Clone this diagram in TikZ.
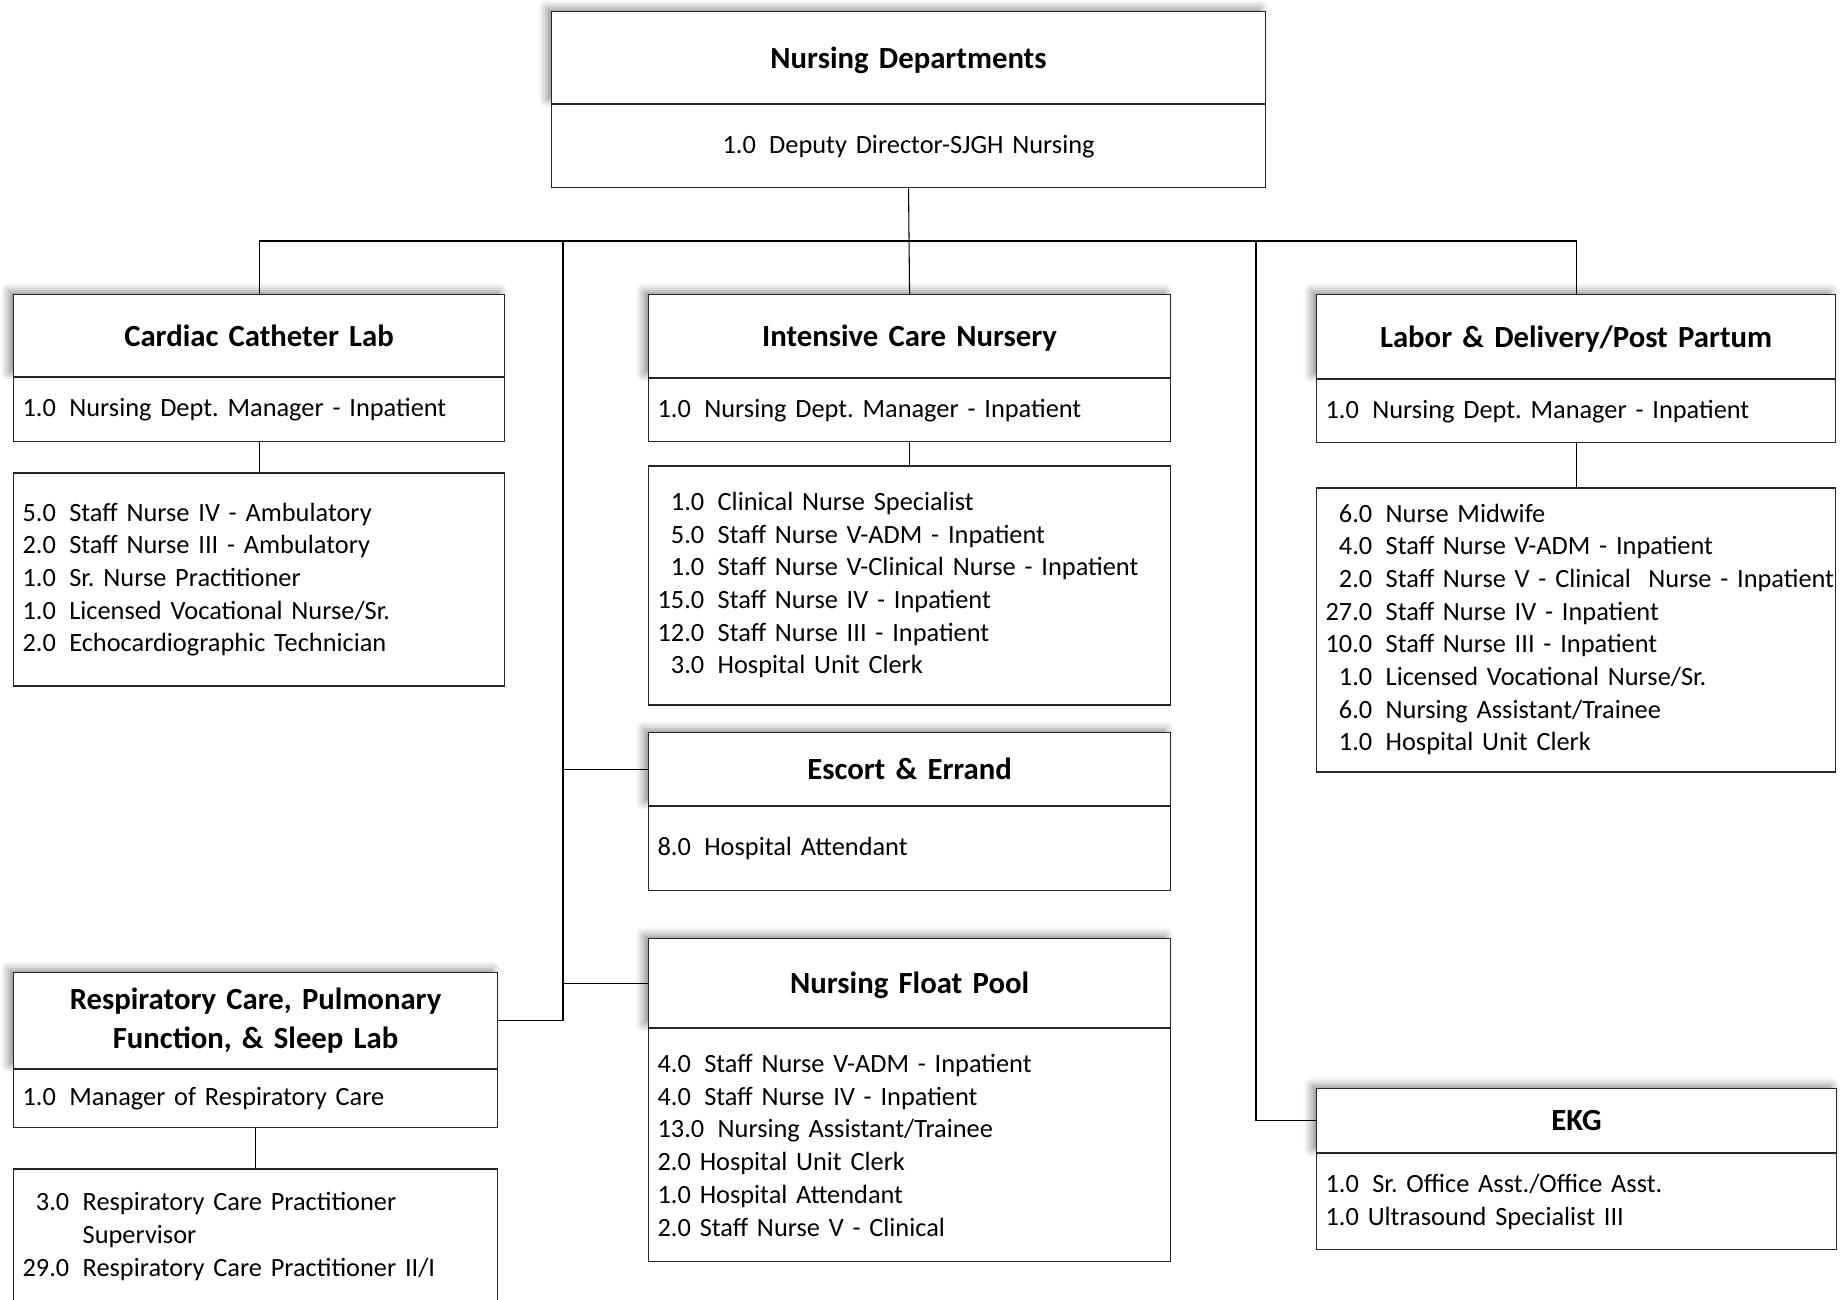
\documentclass[tikz,border=0pt]{standalone}
\usepackage{fontspec}
\setmainfont{Carlito}
\usepackage{tikz}
\usetikzlibrary{
  positioning,
  shadows.blur
}
\definecolor{ink}{HTML}{000000}
\definecolor{rule}{HTML}{262626}
\frenchspacing
\newcommand\headsize{\fontsize{17.5}{22}\selectfont\bfseries\spaceskip=0.2em\relax}
\newcommand\staffsize{\fontsize{15}{18.6}\selectfont\spaceskip=0.18em\relax}
\newcommand\numgap{\hspace{7.6pt}}
\tikzset{
  unithead/.style={
    draw=rule,
    fill=white,
    line width=0.7pt,
    font=\headsize,
    align=center,
    text depth=0pt,
    inner xsep=0.18cm,
    inner ysep=0pt,
    blur shadow={shadow xshift=-0.1cm, shadow yshift=0.07cm,
      shadow blur radius=0.16cm, shadow opacity=45}
  },
  unitpart/.style={
    draw=rule,
    fill=white,
    line width=0.7pt,
    font=\staffsize,
    align=left,
    inner xsep=0.18cm,
    inner ysep=0pt
  },
  link/.style={
    draw=ink,
    line width=0.6pt
  }
}

\begin{document}
\begin{tikzpicture}[x=0.02cm,y=-0.02cm]
  \useasboundingbox (0,0) rectangle (1843,1299);
  \clip (0,0) rectangle (1843,1299);

  % Head of the nursing departments.
  \node[unithead, text width=13.92cm, minimum height=1.84cm, anchor=north west]
    (topT) at (551,11) {Nursing Departments};
  \node[unitpart, align=center, text width=13.92cm, minimum height=1.66cm,
    below=0pt of topT] (topS) {1.0\numgap Deputy Director-SJGH Nursing};

  % Cardiac Catheter Lab.
  \node[unithead, text width=9.46cm, minimum height=1.64cm, anchor=north west]
    (cardT) at (13,294) {Cardiac Catheter Lab};
  \node[unitpart, text width=9.46cm, minimum height=1.28cm, below=0pt of cardT]
    (cardS) {1.0\numgap Nursing Dept. Manager - Inpatient};
  \node[unitpart, text width=9.46cm, minimum height=4.26cm, below=0.6cm of cardS]
    (cardD) {5.0\numgap Staff Nurse IV - Ambulatory\\
             2.0\numgap Staff Nurse III - Ambulatory\\
             1.0\numgap Sr. Nurse Practitioner\\
             1.0\numgap Licensed Vocational Nurse/Sr.\\
             2.0\numgap Echocardiographic Technician};

  % Intensive Care Nursery.
  \node[unithead, text width=10.08cm, minimum height=1.66cm, anchor=north west]
    (icnT) at (648,294) {Intensive Care Nursery};
  \node[unitpart, text width=10.08cm, minimum height=1.26cm, below=0pt of icnT]
    (icnS) {1.0\numgap Nursing Dept. Manager - Inpatient};
  \node[unitpart, text width=10.08cm, minimum height=4.78cm, below=0.46cm of icnS]
    (icnD) {\begin{tabular}{@{}r@{\numgap}l@{}}
      1.0 & Clinical Nurse Specialist\\
      5.0 & Staff Nurse V-ADM - Inpatient\\
      1.0 & Staff Nurse V-Clinical Nurse - Inpatient\\
      15.0 & Staff Nurse IV - Inpatient\\
      12.0 & Staff Nurse III - Inpatient\\
      3.0 & Hospital Unit Clerk
    \end{tabular}};

  % Labor & Delivery.
  \node[unithead, text width=10.02cm, minimum height=1.68cm, anchor=north west]
    (ldT) at (1316,294) {Labor \& Delivery/Post Partum};
  \node[unitpart, text width=10.02cm, minimum height=1.26cm, below=0pt of ldT]
    (ldS) {1.0\numgap Nursing Dept. Manager - Inpatient};
  \node[unitpart, text width=10.02cm, minimum height=5.68cm, below=0.88cm of ldS]
    (ldD) {\begin{tabular}{@{}r@{\numgap}l@{}}
      6.0 & Nurse Midwife\\
      4.0 & Staff Nurse V-ADM - Inpatient\\
      2.0 & Staff Nurse V - Clinical~~Nurse - Inpatient\\
      27.0 & Staff Nurse IV - Inpatient\\
      10.0 & Staff Nurse III - Inpatient\\
      1.0 & Licensed Vocational Nurse/Sr.\\
      6.0 & Nursing Assistant/Trainee\\
      1.0 & Hospital Unit Clerk
    \end{tabular}};

  % Escort & Errand.
  \node[unithead, text width=10.08cm, minimum height=1.46cm, anchor=north west]
    (escT) at (648,732) {Escort \& Errand};
  \node[unitpart, text width=10.08cm, minimum height=1.68cm, below=0pt of escT]
    (escS) {8.0\numgap Hospital Attendant};

  % Nursing Float Pool.
  \node[unithead, text width=10.08cm, minimum height=1.78cm, anchor=north west]
    (poolT) at (648,938) {Nursing Float Pool};
  \node[unitpart, text width=10.08cm, minimum height=4.66cm, below=0pt of poolT]
    (poolD) {4.0\numgap Staff Nurse V-ADM - Inpatient\\
             4.0\numgap Staff Nurse IV - Inpatient\\
             13.0\numgap Nursing Assistant/Trainee\\
             2.0 Hospital Unit Clerk\\
             1.0 Hospital Attendant\\
             2.0 Staff Nurse V - Clinical};

  % Respiratory Care.
  \node[unithead, text depth={}, text width=9.32cm, minimum height=1.92cm,
    anchor=north west] (respT) at (13,972)
    {Respiratory Care, Pulmonary\\Function, \& Sleep Lab};
  \node[unitpart, text width=9.32cm, minimum height=1.16cm, below=0pt of respT]
    (respS) {1.0\numgap Manager of Respiratory Care};
  \node[unitpart, text width=9.32cm, minimum height=2.72cm, below=0.8cm of respS]
    (respD) {\begin{tabular}{@{}r@{\numgap}l@{}}
      3.0 & Respiratory Care Practitioner\\
          & Supervisor\\
      29.0 & Respiratory Care Practitioner II/I
    \end{tabular}};

  % EKG.
  \node[unithead, text width=10.04cm, minimum height=1.28cm, anchor=north west]
    (ekgT) at (1316,1088) {EKG};
  \node[unitpart, text width=10.04cm, minimum height=1.92cm, below=0pt of ekgT]
    (ekgS) {1.0\numgap Sr. Office Asst./Office Asst.\\
            1.0 Ultrasound Specialist III};

  % Reporting lines.
  \coordinate (bus) at (908,241);
  \coordinate (westtrunk) at (563,241);
  \coordinate (easttrunk) at (1256,241);
  \draw[link] (topS.south) -- (icnT.north);
  \draw[link] (cardT.north) |- (bus) -| (ldT.north);
  \draw[link] (westtrunk) |- (respT.east);
  \draw[link] (escT.west) -- (escT.west -| westtrunk);
  \draw[link] (poolT.west) -- (poolT.west -| westtrunk);
  \draw[link] (easttrunk) |- (ekgT.west);
  \draw[link] (cardS.south) -- (cardD.north);
  \draw[link] (icnS.south) -- (icnD.north);
  \draw[link] (ldS.south) -- (ldD.north);
  \draw[link] (respS.south) -- (respD.north);
\end{tikzpicture}
\end{document}
